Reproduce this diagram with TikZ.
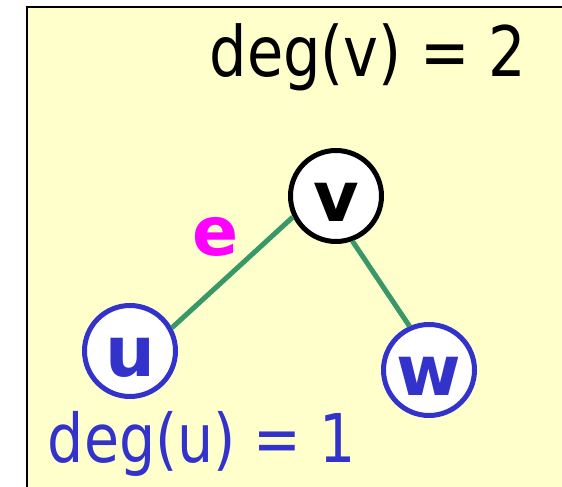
\documentclass[tikz,border=0pt]{standalone}
\usepackage{fontspec}
\setmainfont{DejaVu Sans}
\usepackage{tikz}
\usetikzlibrary{positioning}
\definecolor{bgc}{RGB}{255,255,204}
\definecolor{vtxc}{RGB}{51,51,204}
\definecolor{edgec}{RGB}{56,152,104}
\definecolor{labc}{RGB}{255,0,255}
\tikzset{
  vtx/.style={circle,draw=black,fill=white,line width=5pt,minimum size=91pt,inner sep=0pt,
    text height=52pt,text depth=0pt,font=\fontsize{70}{70}\selectfont\bfseries},
  bvtx/.style={vtx,draw=vtxc,text=vtxc},
  edge/.style={line width=5pt,edgec},
  elab/.style={inner sep=0pt,text=labc,font=\fontsize{68}{68}\selectfont\bfseries},
  deg/.style={anchor=base,inner sep=0pt},
}
\begin{document}
\begin{tikzpicture}[x=1pt,y=1pt]
  \useasboundingbox (0,0) rectangle (562,487);
  \clip (0,0) rectangle (562,487);
  \draw[fill=bgc,line width=2.5pt] (27,-10) rectangle (580,480);
  \node[vtx](v) at (336,291){v};
  \node[bvtx](u) at (130,136){u};
  \node[bvtx](w) at (429,117){w};
  \draw[edge] (u.29)--(v.206) node[elab,midway,xshift=-17pt,yshift=35pt](lab){e};
  \draw[edge] (v.290)--(w.114);
  \node[deg,font=\fontsize{59}{60}\selectfont](degv) at (368,410){\scalebox{1}[1.18]{deg(v) = 2}};
  \node[deg,text=vtxc,font=\fontsize{57}{58}\selectfont](degu) at (202,24){\scalebox{1}[1.18]{deg(u) = 1}};
\end{tikzpicture}
\end{document}
